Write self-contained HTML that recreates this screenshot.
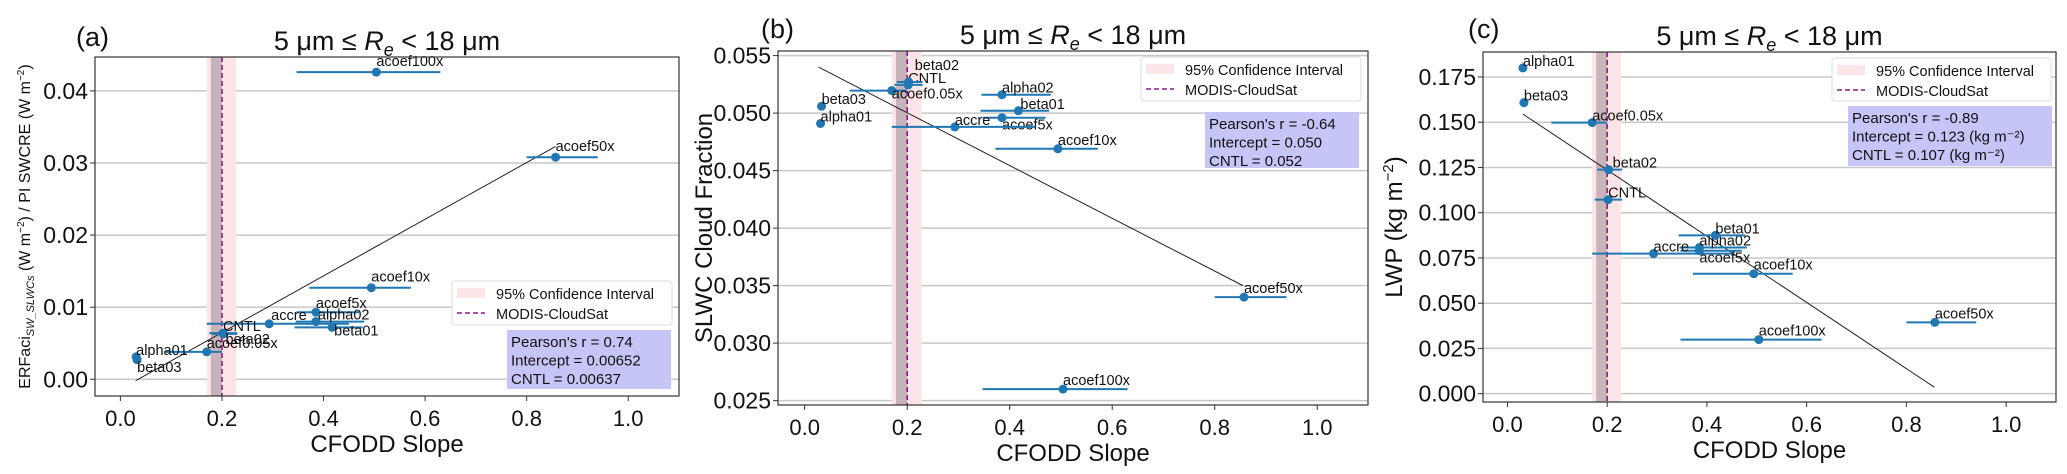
<!DOCTYPE html>
<html><head><meta charset="utf-8">
<style>
html,body{margin:0;padding:0;background:#fff;}
svg{display:block;font-family:"Liberation Sans","DejaVu Sans",sans-serif;}
</style></head>
<body>
<svg id="fig" width="2067" height="474" viewBox="0 0 2067 474" xmlns="http://www.w3.org/2000/svg"></svg>
<script>
const names = ["acoef100x","acoef50x","acoef10x","acoef5x","alpha02","beta01","accre","CNTL","beta02","acoef0.05x","alpha01","beta03"];
const slopeX = [0.504,0.857,0.494,0.385,0.385,0.417,0.293,0.202,0.203,0.17,0.031,0.033];
const slopeLo = [0.347,0.80,0.372,0.347,0.345,0.343,0.17,0.175,0.18,0.088,0.03,0.032];
const slopeHi = [0.63,0.94,0.572,0.47,0.48,0.477,0.45,0.23,0.23,0.2,0.032,0.034];
const valsA = [0.0426,0.0308,0.0127,0.0093,0.0080,0.0072,0.0077,0.0064,0.0063,0.0038,0.0031,0.0027];
const valsB = [0.026,0.034,0.0469,0.0496,0.0516,0.0502,0.0488,0.05245,0.0527,0.05196,0.0491,0.0506];
const valsC = [0.0299,0.0394,0.0663,0.079,0.0808,0.0875,0.0774,0.1072,0.1238,0.1498,0.180,0.1608];
const xTicks = [0.0,0.2,0.4,0.6,0.8,1.0];
const xTickLabels = ["0.0","0.2","0.4","0.6","0.8","1.0"];
const yTicksA = [0.00,0.01,0.02,0.03,0.04];
const yTickLabelsA = ["0.00","0.01","0.02","0.03","0.04"];
const yTicksB = [0.025,0.030,0.035,0.040,0.045,0.050,0.055];
const yTickLabelsB = ["0.025","0.030","0.035","0.040","0.045","0.050","0.055"];
const yTicksC = [0.000,0.025,0.050,0.075,0.100,0.125,0.150,0.175];
const yTickLabelsC = ["0.000","0.025","0.050","0.075","0.100","0.125","0.150","0.175"];
const fitA = [[0.03,-0.0002],[0.857,0.0323]];
const fitB = [[0.027,0.054],[0.855,0.035]];
const fitC = [[0.031,0.1545],[0.856,0.0036]];
const statsA = ["Pearson's r = 0.74","Intercept = 0.00652","CNTL = 0.00637"];
const statsB = ["Pearson's r = -0.64","Intercept = 0.050","CNTL = 0.052"];
const statsC = ["Pearson's r = -0.89","Intercept = 0.123 (kg m⁻²)","CNTL = 0.107 (kg m⁻²)"];
const ciRange = [0.17,0.228];
const ciInner = [0.178,0.2];
const obsSlope = 0.2;

const NS="http://www.w3.org/2000/svg";
const svg=document.getElementById('fig');
function mk(tag,attrs,parent,text){const e=document.createElementNS(NS,tag);for(const k in attrs)e.setAttribute(k,attrs[k]);if(text!==undefined)e.textContent=text;(parent||svg).appendChild(e);return e;}

const offA={"acoef100x":[0,-6],"acoef50x":[0,-6],"acoef10x":[0,-6],"acoef5x":[0,-4],"alpha02":[2,-2],"beta01":[2,8],"accre":[2,-4],"CNTL":[0,-2],"beta02":[2,10],"acoef0.05x":[0,-4],"alpha01":[0,-2],"beta03":[0,12]};
const offB={"acoef100x":[0,-4],"acoef50x":[0,-4],"acoef10x":[0,-4],"acoef5x":[0,12],"alpha02":[0,-2],"beta01":[2,-2],"accre":[0,-2],"CNTL":[0,-2],"beta02":[6,-12],"acoef0.05x":[0,8],"alpha01":[0,-2],"beta03":[0,-2]};
const offC={"acoef100x":[0,-4],"acoef50x":[0,-4],"acoef10x":[0,-4],"acoef5x":[0,12],"alpha02":[0,-2],"beta01":[0,-2],"accre":[0,-2],"CNTL":[0,-2],"beta02":[4,-2],"acoef0.05x":[0,-2],"alpha01":[0,-2],"beta03":[0,-2]};

function panel(cfg){
  const g=mk('g',{});
  
  
  const L=cfg.box[0],R=cfg.box[1],T=cfg.box[2],B=cfg.box[3];
  const sx=v=>L+(v-cfg.xd[0])/(cfg.xd[1]-cfg.xd[0])*(R-L);
  const sy=v=>B-(v-cfg.yd[0])/(cfg.yd[1]-cfg.yd[0])*(B-T);
  cfg.yt.forEach((t,i)=>{
    const gl=mk('line',{x1:L,x2:R,y1:sy(t),y2:sy(t),stroke:'#c8c8c8','stroke-width':1.5},g);
    
    
    mk('line',{x1:L-5,x2:L,y1:sy(t),y2:sy(t),stroke:'#333','stroke-width':1},g);
    const tl=mk('text',{x:L-7,y:sy(t)+8,'text-anchor':'end','font-size':23,fill:'#111'},g,cfg.ytl[i]);
    
    
  });
  xTicks.forEach((t,i)=>{
    mk('line',{x1:sx(t),x2:sx(t),y1:B,y2:B+5,stroke:'#333','stroke-width':1},g);
    const tl=mk('text',{x:sx(t),y:B+30,'text-anchor':'middle','font-size':22,fill:'#111'},g,xTickLabels[i]);
    
    
  });
  const ci=mk('rect',{x:sx(ciRange[0]),y:T,width:sx(ciRange[1])-sx(ciRange[0]),height:B-T,fill:'#fde4e6'},g);
  
  
  const ci2=mk('rect',{x:sx(ciInner[0]),y:T,width:sx(ciInner[1])-sx(ciInner[0]),height:B-T,fill:'#c9b3bb'},g);
  
  
  const ob=mk('line',{x1:sx(obsSlope),x2:sx(obsSlope),y1:T,y2:B,stroke:'#8b1a8b','stroke-width':1.6,'stroke-dasharray':'5,3'},g);
  
  
  const f=mk('line',{x1:sx(cfg.fit[0][0]),y1:sy(cfg.fit[0][1]),x2:sx(cfg.fit[1][0]),y2:sy(cfg.fit[1][1]),stroke:'#222','stroke-width':1},g);
  
  
  names.forEach((n,i)=>{
    const y=sy(cfg.vals[i]);
    const eb=mk('line',{x1:sx(slopeLo[i]),x2:sx(slopeHi[i]),y1:y,y2:y,stroke:'#1f77b4','stroke-width':2},g);
    
    
    const c=mk('circle',{cx:sx(slopeX[i]),cy:y,r:4.5,fill:'#1f77b4'},g);
    
    
    const o=cfg.off[n];
    const lb=mk('text',{x:sx(slopeX[i])+o[0],y:y+o[1],'font-size':14.5,fill:'#111'},g,n);
    
    
  });
  const fr=mk('rect',{x:L,y:T,width:R-L,height:B-T,fill:'none',stroke:'#333','stroke-width':1.2},g);
  
  
  const lg=cfg.leg;
  const lgg=mk('g',{},g);
  
  
  mk('rect',{x:lg[0],y:lg[1],width:lg[2],height:lg[3],rx:3,fill:'#fff',stroke:'#ddd','stroke-width':1},lgg);
  mk('rect',{x:lg[0]+5,y:lg[1]+7,width:28,height:10,fill:'#fde4e6'},lgg);
  const t1=mk('text',{x:lg[0]+44,y:lg[1]+18,'font-size':14.5,fill:'#111'},lgg,'95% Confidence Interval');
  
  
  mk('line',{x1:lg[0]+5,x2:lg[0]+33,y1:lg[1]+32,y2:lg[1]+32,stroke:'#8b1a8b','stroke-width':1.6,'stroke-dasharray':'5,3'},lgg);
  const t2=mk('text',{x:lg[0]+44,y:lg[1]+38,'font-size':14.5,fill:'#111'},lgg,'MODIS-CloudSat');
  
  
  const st=cfg.st;
  const sg=mk('g',{},g);
  
  
  mk('rect',{x:st[0],y:st[1],width:st[2],height:st[3],fill:'#c5c5f7'},sg);
  cfg.stats.forEach((s,i)=>mk('text',{x:st[0]+4,y:st[1]+17+i*18.5,'font-size':15,fill:'#111'},sg,s));
  const pl=mk('text',{x:cfg.pl[0],y:cfg.pl[1],'font-size':27,fill:'#111'},g,cfg.letter);
  
  
  const ti=mk('text',{x:(L+R)/2,y:cfg.ty,'text-anchor':'middle','font-size':27,fill:'#111'},g);
  
  
  ti.innerHTML='5 μm  ≤  <tspan font-style="italic">R</tspan><tspan font-style="italic" font-size="18" dy="6">e</tspan><tspan dy="-6"> &lt; 18 μm</tspan>';
  const xl=mk('text',{x:(L+R)/2,y:B+56,'text-anchor':'middle','font-size':24,fill:'#111'},g,'CFODD Slope');
  
  
  const yl=mk('text',{x:0,y:0,'text-anchor':'middle','font-size':cfg.ylfs,fill:'#111',transform:`translate(${cfg.ylx},${(T+B)/2}) rotate(-90)`},g);
  
  
  yl.innerHTML=cfg.ylabel;
}

panel({id:'panel-a',letter:'(a)',box:[95,679,57,396],xd:[-0.05,1.1],yd:[-0.00232,0.0447],yt:yTicksA,ytl:yTickLabelsA,vals:valsA,fit:fitA,off:offA,
  leg:[452,281,220,44],st:[507,330,164,59],stats:statsA,pl:[76,46],ty:50,ylx:30,ylfs:16,
  ylabel:'ERFaci<tspan font-style="italic" font-size="11" dy="4">SW_SLWCs</tspan><tspan dy="-4"> (W m</tspan><tspan font-size="10" dy="-6">−2</tspan><tspan dy="6">) / PI SWCRE (W m</tspan><tspan font-size="10" dy="-6">−2</tspan><tspan dy="6">)</tspan>'});
panel({id:'panel-b',letter:'(b)',box:[778,1368,51,405],xd:[-0.052,1.099],yd:[0.02462,0.0554],yt:yTicksB,ytl:yTickLabelsB,vals:valsB,fit:fitB,off:offB,
  leg:[1141,57,220,44],st:[1205,112,154,56],stats:statsB,pl:[761,38],ty:44,ylx:712,ylfs:24,
  ylabel:'SLWC Cloud Fraction'});
panel({id:'panel-c',letter:'(c)',box:[1483,2056,52,402],xd:[-0.049,1.1],yd:[-0.0046,0.1888],yt:yTicksC,ytl:yTickLabelsC,vals:valsC,fit:fitC,off:offC,
  leg:[1832,58,219,43],st:[1848,106,204,60],stats:statsC,pl:[1468,38],ty:45,ylx:1402,ylfs:24,
  ylabel:'LWP (kg m<tspan font-size="15" dy="-9">−2</tspan><tspan dy="9">)</tspan>'});
</script>
</body></html>
